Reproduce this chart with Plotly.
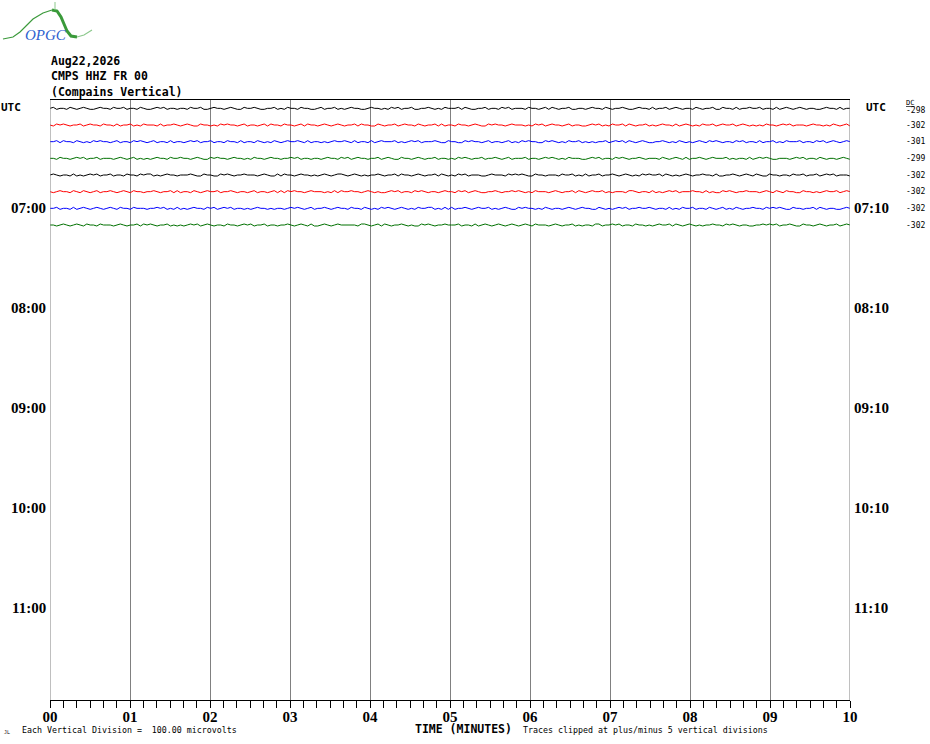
import plotly.graph_objects as go

# ---------------- data ----------------
START_HOUR_LABELS_LEFT = ["UTC", "07:00", "08:00", "09:00", "10:00", "11:00"]
START_HOUR_LABELS_RIGHT = ["UTC", "07:10", "08:10", "09:10", "10:10", "11:10"]
LABEL_ROWS = [0, 6, 12, 18, 24, 30]
X_TICK_VALUES = list(range(11))
X_TICK_TEXT = ["00", "01", "02", "03", "04", "05", "06", "07", "08", "09", "10"]
TRACE_COLORS = ["#000000", "#ff0000", "#0000ff", "#007000",
                "#000000", "#ff0000", "#0000ff", "#007000"]
DC_VALUES = [-298, -302, -301, -299, -302, -302, -302, -302]
N_ROWS = 36  # 6 hours of 10-minute lines

# Trace wiggle, one digit per ~2.5 s sample, 3 = baseline (units: ~6 microvolts)
TRACE_0 = ("3423324323432234332433423324322343423323324334223433234322433432233423"
           "2433243322342334232343322343323243423342233432324333424322334233243423"
           "3324332342432334223323433243233432234332423342343233243233422433242334"
           "334233242343234323322343324233")
TRACE_1 = ("3243432334234332433242334232433324233432343224332324343323423323424332"
           "4332342433234323432334243322432334234332432334242332433234322434332343"
           "3323243423433234233223434232433424323342323433242343232433423433423432"
           "323243323434233323433232432342")
TRACE_2 = ("3342433243232434332342332434323423324233234342334233243324233243232432"
           "3433432423323234334324233242343334232343423334322433224343323423323423"
           "2434332243432324334232323342343424323432233432324323234324343233243423"
           "324233423243334233243423432343")
TRACE_3 = ("3324332343423342333234323423232343324334332343224343323433232433234332"
           "3343423323323433243423433233423432243323432334233232434323342334323423"
           "3342332343432324333223434233243432334323332432343242334323433342323324"
           "234343223332343423324323323432")
TRACE_4 = ("3432332423234342334233243324344232343323334322433224343233433323432242"
           "4332343323234323443234323233432334243323432334243232434233322343332434"
           "3432243323332433423242334233432343232434334243232343233433242233432343"
           "243224332332433423342343423332")
TRACE_5 = ("3234332432432342334323432433233432334242332432343342334323323423323424"
           "2434332343332324243343323432322343423324343233234332434234322334323343"
           "4323243332343233424323433423233324432332423234342333433242322434323343"
           "332343243243322433232343342343")
TRACE_6 = ("3342332423432343234324332433323343423242323433243423434233232343323233"
           "2343432342334323433243324323243432343232433442324242334323433423234322"
           "4343323243233234323433224323234342334334323324232433423324323423243233"
           "433243434322433233424323322343")
TRACE_7 = ("3323432343243324333234323342434323342323234342343233243323434233423323"
           "3432343242234323433333244323424323343232243432334333423324234323432343"
           "2343243332343233423233244233434233243323234334243234323233433243432332"
           "233434342334322433234323342343")
TRACES = [TRACE_0, TRACE_1, TRACE_2, TRACE_3, TRACE_4, TRACE_5, TRACE_6, TRACE_7]
TRACE_MINUTES = 10.0
UNIT_PER_STEP = 0.06  # one wiggle step in trace-spacing units

# ---------------- figure ----------------
W, H = 930, 744
L, R, T, B = 50, 850, 100, 700   # plot area in screenshot pixels


def pxx(x):
    return (x - L) / (R - L)


def pxy(y):
    return (B - y) / (B - T)


fig = go.Figure()
for i, s in enumerate(TRACES):
    n = len(s)
    xs = [k * TRACE_MINUTES / (n - 1) for k in range(n)]
    ys = [i - (int(c) - 3) * UNIT_PER_STEP for c in s]
    fig.add_trace(go.Scatter(x=xs, y=ys, mode="lines",
                             line=dict(color=TRACE_COLORS[i], width=1),
                             hoverinfo="skip", showlegend=False))

fig.update_layout(
    width=W, height=H,
    margin=dict(l=L, r=W - R, t=T, b=H - B, pad=0),
    paper_bgcolor="white", plot_bgcolor="white",
    showlegend=False,
    xaxis=dict(range=[0, 10], tickvals=X_TICK_VALUES,
               ticktext=["<b>" + t + "</b>" for t in X_TICK_TEXT],
               showgrid=True, gridcolor="#808080", gridwidth=1,
               zeroline=False, showline=True, linecolor="black", linewidth=1,
               mirror=True, ticks="outside", ticklen=7, tickcolor="black",
               ticklabelstandoff=-4,
               tickfont=dict(family="Liberation Serif", size=15, color="black"),
               minor=dict(dtick=1 / 6, ticks="outside", ticklen=7,
                          tickcolor="black", showgrid=False)),
    yaxis=dict(range=[N_ROWS - 0.5, -0.5], showgrid=False, zeroline=False,
               showticklabels=False, ticks="", showline=False),
)

# left/right gray borders
for xv in (0, 10):
    fig.add_shape(type="line", xref="x", yref="paper", x0=xv, x1=xv, y0=0, y1=1,
                  line=dict(color="#808080", width=1))

ann = []
mono = "DejaVu Sans Mono"
# header
for txt, yy in [("Aug22,2026", 61), ("CMPS HHZ FR 00", 76), ("(Compains Vertical)", 92)]:
    ann.append(dict(text="<b>" + txt + "</b>", x=pxx(49), y=pxy(yy), xanchor="left",
                    yanchor="middle", font=dict(family=mono, size=11.5, color="black")))

# hour labels
for lab_l, lab_r, row in zip(START_HOUR_LABELS_LEFT, START_HOUR_LABELS_RIGHT, LABEL_ROWS):
    if lab_l == "UTC":
        ann.append(dict(text="<b>UTC</b>", x=pxx(-1), y=row - 0.05, yref="y", xanchor="left",
                        yanchor="middle", font=dict(family=mono, size=11, color="black")))
        ann.append(dict(text="<b>UTC</b>", x=pxx(864), y=row - 0.05, yref="y", xanchor="left",
                        yanchor="middle", font=dict(family=mono, size=11, color="black")))
    else:
        ann.append(dict(text="<b>" + lab_l + "</b>", x=pxx(48), y=row, yref="y",
                        xanchor="right", yanchor="middle",
                        font=dict(family="Liberation Serif", size=15, color="black")))
        ann.append(dict(text="<b>" + lab_r + "</b>", x=pxx(852), y=row, yref="y",
                        xanchor="left", yanchor="middle",
                        font=dict(family="Liberation Serif", size=15, color="black")))

# DC values
for i, v in enumerate(DC_VALUES):
    yy = i + (0.12 if i == 0 else 0.0)
    ann.append(dict(text=str(v), x=pxx(904), y=yy, yref="y", xanchor="left",
                    yanchor="middle", font=dict(family=mono, size=8, color="black")))
ann.append(dict(text="<u>DC</u>", x=pxx(904), y=pxy(103), xanchor="left",
                yanchor="middle", font=dict(family=mono, size=7, color="black")))

# bottom texts
ann.append(dict(text="Each Vertical Division =  100.00 microvolts", x=pxx(20), y=pxy(730),
                xanchor="left", yanchor="middle",
                font=dict(family=mono, size=8.3, color="black")))
ann.append(dict(text="<b>TIME (MINUTES)</b>", x=pxx(413), y=pxy(729), xanchor="left",
                yanchor="middle", font=dict(family=mono, size=11.5, color="black")))
ann.append(dict(text="Traces clipped at plus/minus 5 vertical divisions", x=pxx(521),
                y=pxy(730), xanchor="left", yanchor="middle",
                font=dict(family=mono, size=8.3, color="black")))
ann.append(dict(text="JL", x=pxx(2), y=pxy(732), xanchor="left", yanchor="middle",
                font=dict(family=mono, size=5, color="black")))

# logo
ann.append(dict(text="<i>OPGC</i>", x=pxx(46), y=pxy(35), xanchor="center",
                yanchor="middle", font=dict(family="Liberation Serif", size=15, color="#2e5fd0")))
for a in ann:
    a.setdefault("xref", "paper")
    a.setdefault("yref", "paper")
    a["showarrow"] = False
fig.update_layout(annotations=ann)


def path_from(points):
    parts = []
    for j, (x, y) in enumerate(points):
        parts.append(("M" if j == 0 else "L") + f"{pxx(x):.5f},{pxy(y):.5f}")
    return " ".join(parts)


logo_thin = [(3, 39), (13, 37), (20, 32), (27, 25), (33, 19), (43, 13), (52, 10)]
logo_thick = [(52, 10), (57, 11), (61, 17), (64, 24), (67, 31), (71, 36), (77, 37)]
logo_tail = [(77, 37), (84, 35), (92, 30)]
fig.add_shape(type="path", xref="paper", yref="paper", path=path_from(logo_thin),
              line=dict(color="#3c9a3c", width=1.2))
fig.add_shape(type="path", xref="paper", yref="paper", path=path_from(logo_thick),
              line=dict(color="#3a9a3a", width=3))
fig.add_shape(type="path", xref="paper", yref="paper", path=path_from(logo_tail),
              line=dict(color="#8cc88c", width=1.2))
fig.add_shape(type="path", xref="paper", yref="paper", path=path_from([(55, 2), (55, 10)]),
              line=dict(color="#8cc88c", width=1))

fig.write_html(
    "out.html",
    config={"displayModeBar": False},
    post_script="document.body.style.margin='0';document.body.style.overflow='hidden';",
)
